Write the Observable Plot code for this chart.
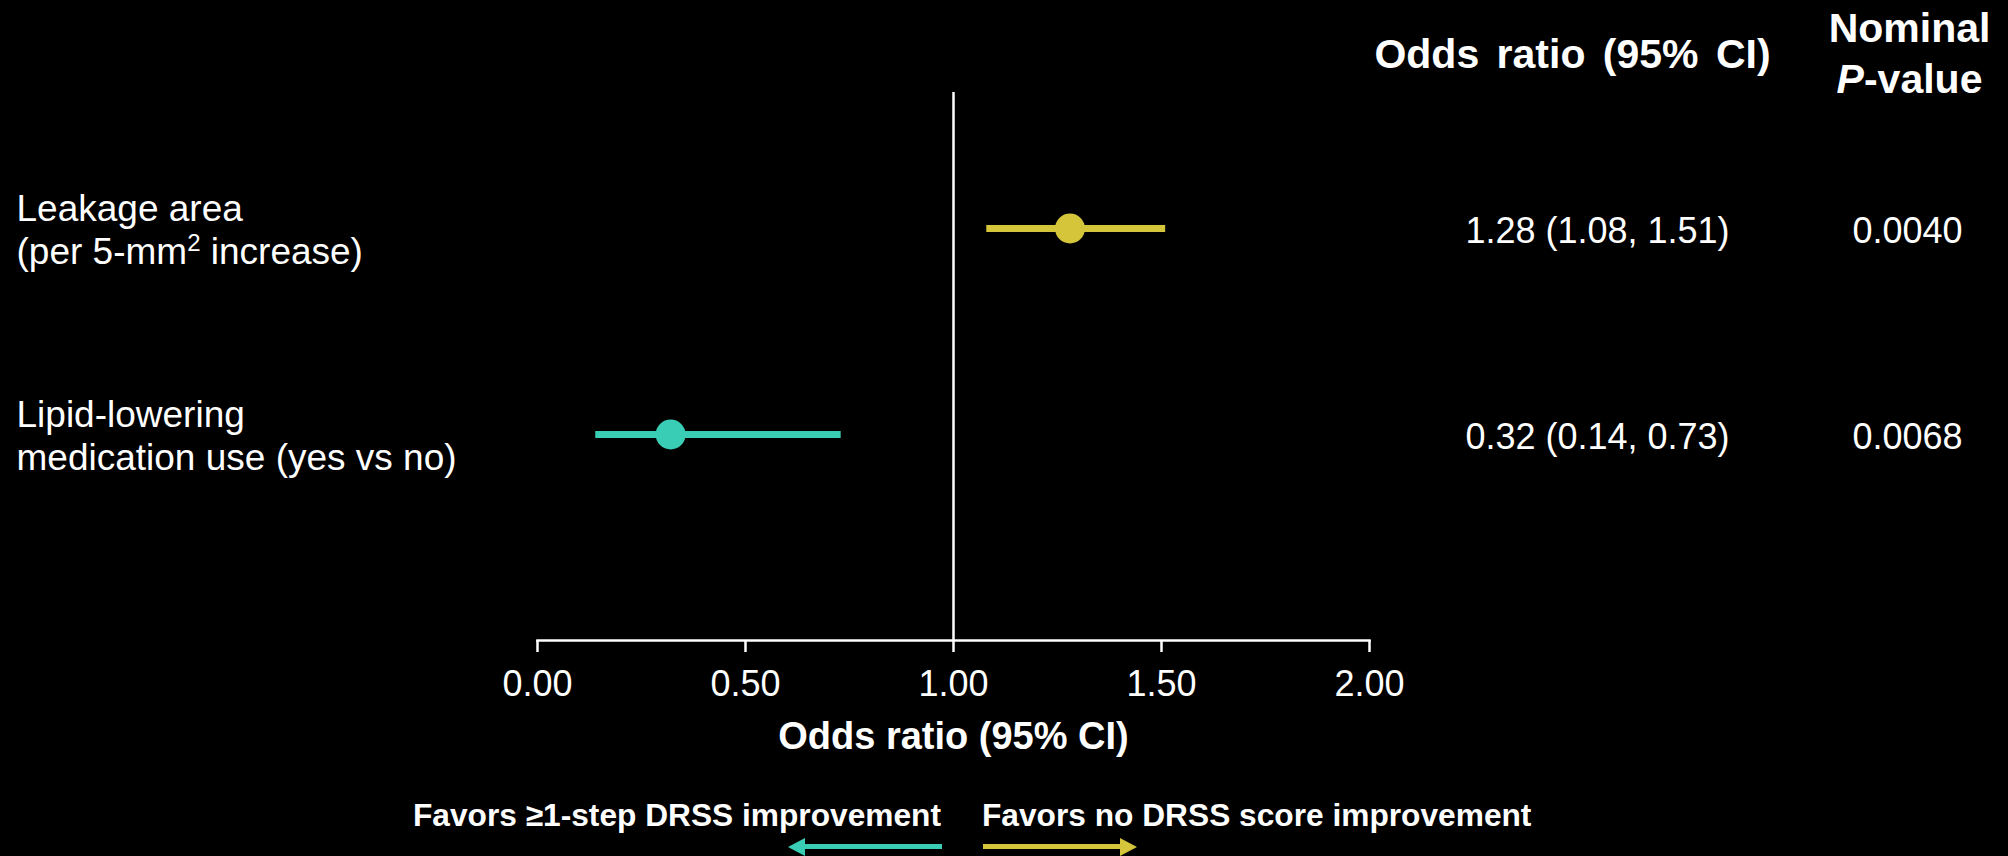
<!DOCTYPE html>
<html>
<head>
<meta charset="utf-8">
<script src="https://cdn.jsdelivr.net/npm/d3@7"></script>
<script src="https://cdn.jsdelivr.net/npm/@observablehq/plot@0.6"></script>
<style>
  html, body { margin: 0; padding: 0; background: #000; }
  body { width: 2008px; height: 856px; overflow: hidden; font-family: "Liberation Sans", Arial, sans-serif; color: #fff; }
  #chart svg { display: block; }
  #legend { position: relative; width: 2008px; height: 66px; }
  #legend .lab { position: absolute; top: 10px; font-size: 31.7px; line-height: 31px; font-weight: bold; white-space: nowrap; }
  #legend .bar { position: absolute; height: 5px; top: 54px; }
  #legend .head { position: absolute; width: 0; height: 0; top: 48px; border-top: 9px solid transparent; border-bottom: 9px solid transparent; }
</style>
</head>
<body>
<div id="chart"></div>
<div id="legend"></div>
<script>
// ---- data ----
const labels = ["Leakage area\n(per 5-mm² increase)", "Lipid-lowering\nmedication use (yes vs no)"];
const oddsRatio = [1.28, 0.32];
const ciLow = [1.08, 0.14];
const ciHigh = [1.51, 0.73];
const pValues = ["0.0040", "0.0068"];
const colors = ["#D4C53B", "#3ACDB5"];
const xTicks = [0, 0.5, 1, 1.5, 2];
const referenceValue = [1];
const headerOR = "Odds ratio (95% CI)";
const headerP = "Nominal\nP-value";
const xAxisTitle = "Odds ratio (95% CI)";
const legendLabels = ["Favors ≥1-step DRSS improvement", "Favors no DRSS score improvement"];
const legendColors = ["#3ACDB5", "#D4C53B"];

const rows = labels.map((label, i) => ({
  label, or: oddsRatio[i], lo: ciLow[i], hi: ciHigh[i], p: pValues[i], color: colors[i]
}));
const fmt = d3.format(".2f");

const font = "Liberation Sans, Arial, sans-serif";

const chart = Plot.plot({
  width: 2008,
  height: 790,
  marginLeft: 537,
  marginRight: 639,
  marginTop: 92,
  marginBottom: 150,
  style: { background: "#000", color: "#fff", fontFamily: font, overflow: "visible" },
  x: { domain: [0, 2], label: null },
  y: { domain: labels, range: [228, 434], padding: 0, axis: null },
  color: { type: "identity" },
  marks: [
    Plot.frame({ anchor: "bottom", stroke: "#fff", strokeWidth: 2.5 }),
    Plot.ruleX(referenceValue, { stroke: "#fff", strokeWidth: 2.5 }),
    Plot.axisX({ ticks: xTicks, tickFormat: fmt, tickSize: 12, tickPadding: 18, fontSize: 36, strokeWidth: 2.5, label: null }),
    Plot.ruleY(rows, { y: "label", x1: "lo", x2: "hi", stroke: "color", strokeWidth: 7 }),
    Plot.dot(rows, { x: "or", y: "label", r: 15, fill: "color", stroke: null }),
    Plot.text(rows, { y: "label", text: "label", frameAnchor: "left", dx: -521, textAnchor: "start", lineAnchor: "middle", lineHeight: 1.17, fontSize: 37, fill: "#fff", dy: 0, ariaLabel: () => "row-label" }),
    Plot.text(rows, { y: "label", text: d => `${fmt(d.or)} (${fmt(d.lo)}, ${fmt(d.hi)})`, frameAnchor: "right", dx: 228, dy: 3, textAnchor: "middle", lineAnchor: "middle", fontSize: 36, fill: "#fff" }),
    Plot.text(rows, { y: "label", text: "p", frameAnchor: "right", dx: 538, dy: 3, textAnchor: "middle", lineAnchor: "middle", fontSize: 36, fill: "#fff" }),
    Plot.text([headerOR], { text: d => d, frameAnchor: "top-right", dx: 203, dy: -25, textAnchor: "middle", lineAnchor: "bottom", fontSize: 41, fontWeight: "bold", fill: "#fff", ariaLabel: () => "or-head" }),
    Plot.text([headerP], { text: d => d, frameAnchor: "top-right", dx: 540, dy: 0, textAnchor: "middle", lineAnchor: "bottom", lineHeight: 1.24, fontSize: 41, fontWeight: "bold", fill: "#fff", ariaLabel: () => "pval-head" }),
    Plot.text([xAxisTitle], { text: d => d, frameAnchor: "bottom", dy: 108, textAnchor: "middle", lineAnchor: "bottom", fontSize: 38, fontWeight: "bold", fill: "#fff" })
  ]
});
document.getElementById("chart").appendChild(chart);
const ns = "http://www.w3.org/2000/svg";

function findTexts(label) {
  return Array.from(chart.querySelectorAll(`[aria-label="${label}"]`)).flatMap(el =>
    el.tagName.toLowerCase() === "text" ? [el] : Array.from(el.querySelectorAll("text")));
}

// wider word spacing in the odds-ratio header
findTexts("or-head").forEach(t => t.setAttribute("word-spacing", "6"));

// italic "P" in the P-value header
findTexts("pval-head").forEach(ph => {
  const tspans = ph.querySelectorAll("tspan");
  const last = tspans.length ? tspans[tspans.length - 1] : null;
  if (last && last.textContent.startsWith("P")) {
    const rest = last.textContent.slice(1);
    last.textContent = "";
    const a = document.createElementNS(ns, "tspan");
    a.setAttribute("font-style", "italic");
    a.textContent = "P";
    const b = document.createElementNS(ns, "tspan");
    b.textContent = rest;
    last.appendChild(a);
    last.appendChild(b);
  }
});

// true superscript for "²" in row labels
findTexts("row-label").forEach(t => {
  t.querySelectorAll("tspan").forEach(ts => {
    const s = ts.textContent;
    const k = s.indexOf("²");
    if (k < 0) return;
    ts.textContent = "";
    ts.appendChild(document.createTextNode(s.slice(0, k)));
    const sup = document.createElementNS(ns, "tspan");
    sup.setAttribute("font-size", "24");
    sup.setAttribute("baseline-shift", "55%");
    sup.textContent = "2";
    ts.appendChild(sup);
    const after = document.createElementNS(ns, "tspan");
    after.textContent = " " + s.slice(k + 1).replace(/^\s/, "");
    ts.appendChild(after);
  });
});

// legend below the SVG
const legend = document.getElementById("legend");
const l0 = document.createElement("span");
l0.className = "lab"; l0.style.right = (2008 - 941) + "px"; l0.textContent = legendLabels[0];
const l1 = document.createElement("span");
l1.className = "lab"; l1.style.left = "982px"; l1.textContent = legendLabels[1];
legend.appendChild(l0); legend.appendChild(l1);
const b0 = document.createElement("div");
b0.className = "bar"; b0.style.left = "800px"; b0.style.width = "142px"; b0.style.background = legendColors[0];
const h0 = document.createElement("div");
h0.className = "head"; h0.style.left = "788px"; h0.style.borderRight = `17px solid ${legendColors[0]}`;
const b1 = document.createElement("div");
b1.className = "bar"; b1.style.left = "983px"; b1.style.width = "140px"; b1.style.background = legendColors[1];
const h1 = document.createElement("div");
h1.className = "head"; h1.style.left = "1120px"; h1.style.borderLeft = `17px solid ${legendColors[1]}`;
[b0, h0, b1, h1].forEach(e => legend.appendChild(e));
</script>
</body>
</html>
